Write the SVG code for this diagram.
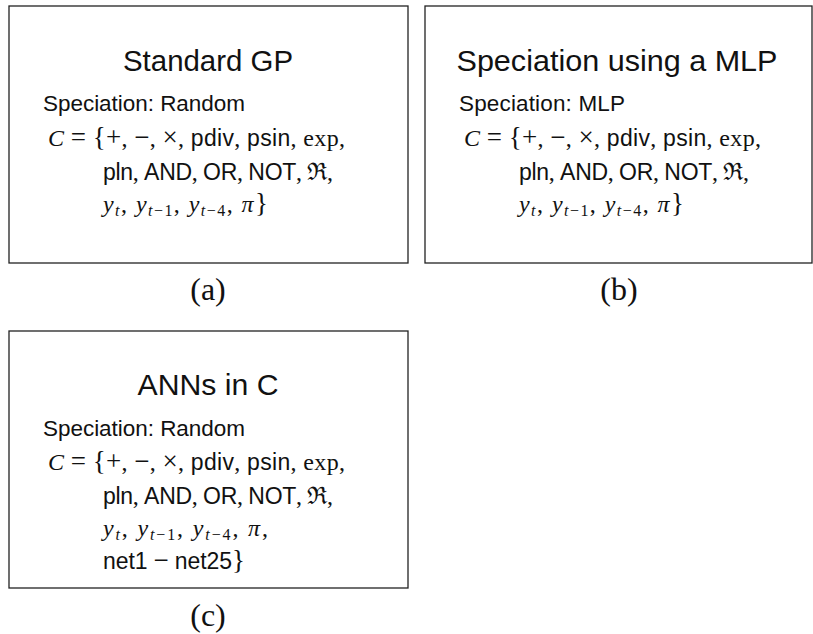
<svg xmlns="http://www.w3.org/2000/svg" width="813" height="634" viewBox="0 0 813 634">
  <style>
    .box { fill: none; stroke: #222; stroke-width: 1.3; }
    .title { font-family: "Liberation Sans", Arial, sans-serif; font-size: 30px; fill: #111; text-anchor: middle; }
    .body { font-family: "Liberation Sans", Arial, sans-serif; font-size: 22.5px; fill: #111; }
    .m { font-family: "Liberation Serif", "DejaVu Serif", serif; font-size: 24px; fill: #111; }
    .s { font-family: "Liberation Sans", Arial, sans-serif; font-size: 23px; }
    .op { font-size: 27px; }
    .i { font-style: italic; }
    .sub { font-size: 16px; }
    .cap { font-family: "Liberation Serif", "DejaVu Serif", serif; font-size: 32px; fill: #111; text-anchor: middle; }
  </style>
  <rect width="813" height="634" fill="#fff"/>

  <g id="panel-a">
    <rect class="box" x="9" y="6" width="399" height="257"/>
    <text class="title" x="208" y="71" textLength="170" lengthAdjust="spacingAndGlyphs">Standard GP</text>
    <text class="body" x="43" y="111" textLength="202" lengthAdjust="spacing">Speciation:  Random</text>
    <text class="m" x="48" y="146" textLength="297" lengthAdjust="spacing"><tspan class="i">C</tspan> <tspan class="op">=</tspan> <tspan class="op">{+</tspan>, <tspan class="op">−</tspan>, <tspan class="op">×</tspan>, <tspan class="s">pdiv</tspan>, <tspan class="s">psin</tspan>, exp,</text>
    <text class="m" x="103" y="180" textLength="230" lengthAdjust="spacing"><tspan class="s">pln</tspan>, <tspan class="s">AND</tspan>, <tspan class="s">OR</tspan>, <tspan class="s">NOT</tspan>, ℜ,</text>
    <text class="m" x="103" y="212" textLength="165" lengthAdjust="spacing"><tspan class="i">y</tspan><tspan class="i sub" dy="4">t</tspan><tspan dy="-4">, </tspan><tspan class="i">y</tspan><tspan class="sub" dy="4"><tspan class="i">t</tspan>−1</tspan><tspan dy="-4">, </tspan><tspan class="i">y</tspan><tspan class="sub" dy="4"><tspan class="i">t</tspan>−4</tspan><tspan dy="-4">, </tspan><tspan class="i">π</tspan><tspan class="op">}</tspan></text>
    <text class="cap" x="208" y="300">(a)</text>
  </g>

  <g id="panel-b">
    <rect class="box" x="425" y="6" width="387" height="257"/>
    <text class="title" x="617" y="71" textLength="321" lengthAdjust="spacingAndGlyphs">Speciation using a MLP</text>
    <text class="body" x="459" y="111" textLength="166" lengthAdjust="spacing">Speciation:  MLP</text>
    <text class="m" x="464" y="146" textLength="297" lengthAdjust="spacing"><tspan class="i">C</tspan> <tspan class="op">=</tspan> <tspan class="op">{+</tspan>, <tspan class="op">−</tspan>, <tspan class="op">×</tspan>, <tspan class="s">pdiv</tspan>, <tspan class="s">psin</tspan>, exp,</text>
    <text class="m" x="519" y="180" textLength="230" lengthAdjust="spacing"><tspan class="s">pln</tspan>, <tspan class="s">AND</tspan>, <tspan class="s">OR</tspan>, <tspan class="s">NOT</tspan>, ℜ,</text>
    <text class="m" x="519" y="212" textLength="165" lengthAdjust="spacing"><tspan class="i">y</tspan><tspan class="i sub" dy="4">t</tspan><tspan dy="-4">, </tspan><tspan class="i">y</tspan><tspan class="sub" dy="4"><tspan class="i">t</tspan>−1</tspan><tspan dy="-4">, </tspan><tspan class="i">y</tspan><tspan class="sub" dy="4"><tspan class="i">t</tspan>−4</tspan><tspan dy="-4">, </tspan><tspan class="i">π</tspan><tspan class="op">}</tspan></text>
    <text class="cap" x="619" y="300">(b)</text>
  </g>

  <g id="panel-c">
    <rect class="box" x="9" y="331" width="399" height="257"/>
    <text class="title" x="208" y="395" textLength="141" lengthAdjust="spacingAndGlyphs">ANNs in C</text>
    <text class="body" x="43" y="436" textLength="202" lengthAdjust="spacing">Speciation:  Random</text>
    <text class="m" x="48" y="470" textLength="297" lengthAdjust="spacing"><tspan class="i">C</tspan> <tspan class="op">=</tspan> <tspan class="op">{+</tspan>, <tspan class="op">−</tspan>, <tspan class="op">×</tspan>, <tspan class="s">pdiv</tspan>, <tspan class="s">psin</tspan>, exp,</text>
    <text class="m" x="103" y="504" textLength="230" lengthAdjust="spacing"><tspan class="s">pln</tspan>, <tspan class="s">AND</tspan>, <tspan class="s">OR</tspan>, <tspan class="s">NOT</tspan>, ℜ,</text>
    <text class="m" x="103" y="536" textLength="165" lengthAdjust="spacing"><tspan class="i">y</tspan><tspan class="i sub" dy="4">t</tspan><tspan dy="-4">, </tspan><tspan class="i">y</tspan><tspan class="sub" dy="4"><tspan class="i">t</tspan>−1</tspan><tspan dy="-4">, </tspan><tspan class="i">y</tspan><tspan class="sub" dy="4"><tspan class="i">t</tspan>−4</tspan><tspan dy="-4">, </tspan><tspan class="i">π</tspan>,</text>
    <text class="m" x="103" y="569" textLength="142" lengthAdjust="spacing"><tspan class="s">net1</tspan> <tspan class="op">−</tspan> <tspan class="s">net25</tspan><tspan class="op">}</tspan></text>
    <text class="cap" x="208" y="626">(c)</text>
  </g>
</svg>
